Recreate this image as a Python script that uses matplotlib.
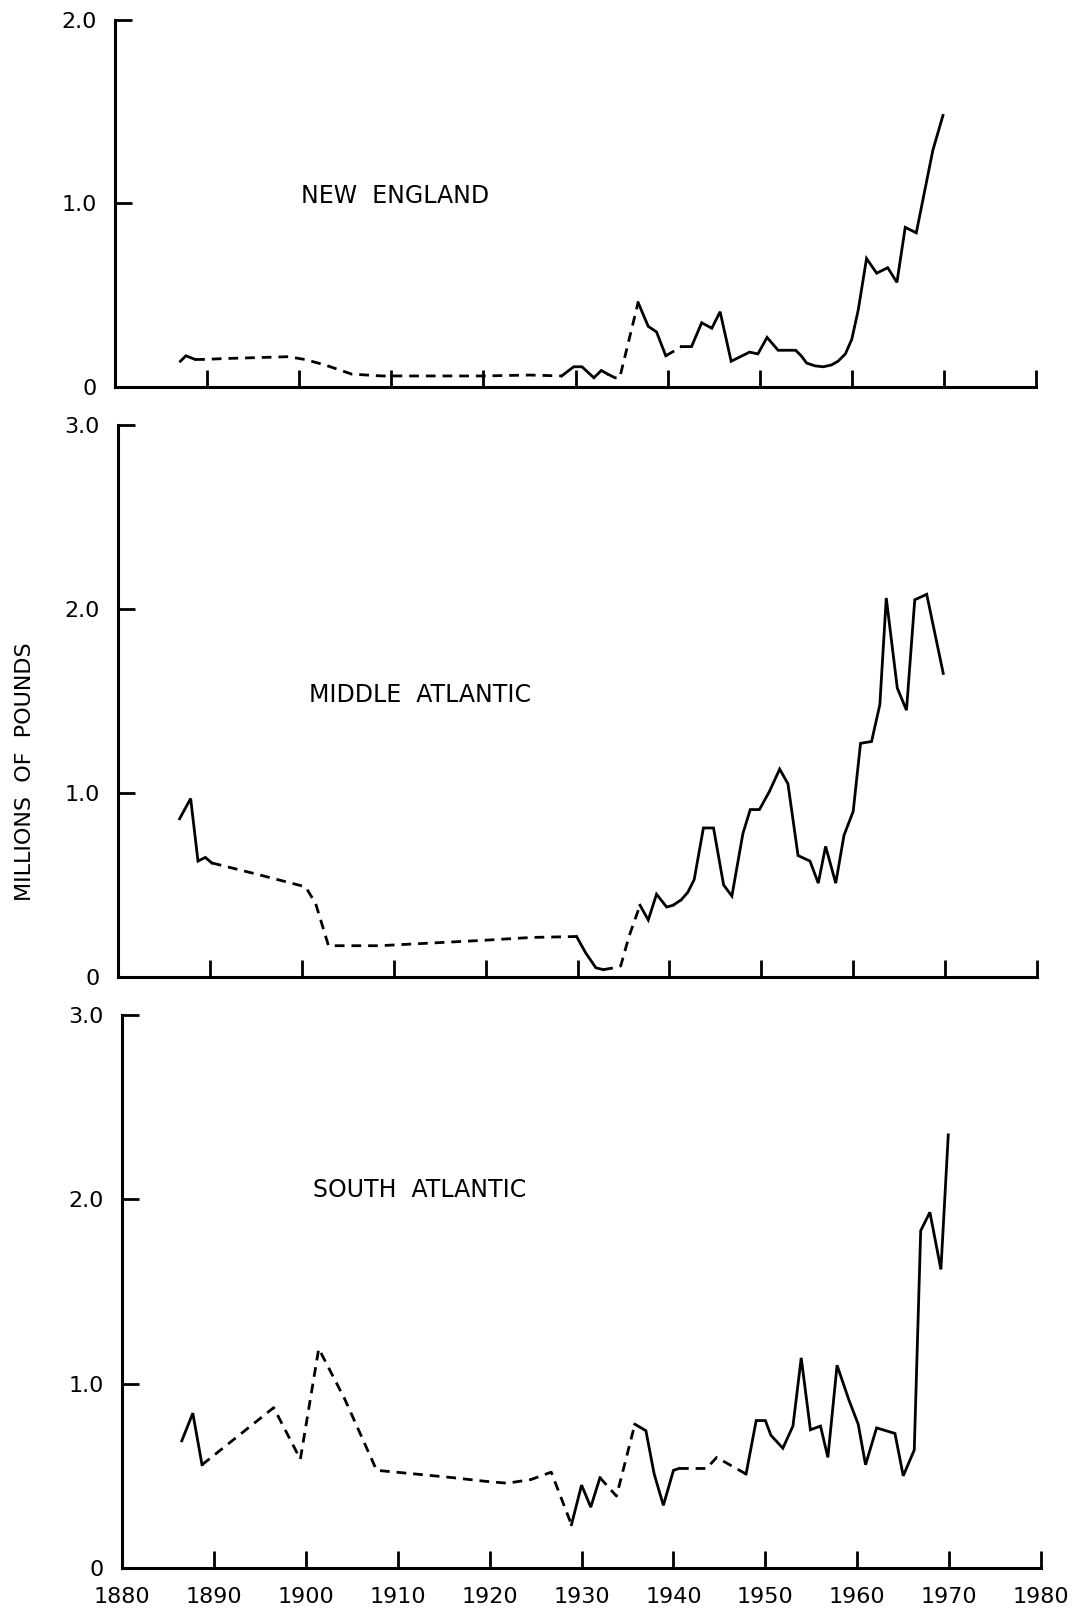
import numpy as np
import matplotlib
matplotlib.use('Agg')
import matplotlib.pyplot as plt

plt.rcParams['font.family'] = ['DejaVu Sans']

# New England (millions of pounds)
years_ne = [1887.1, 1887.7, 1888.7, 1889.5, 1892.0, 1895.5, 1898.8, 1900.6, 1902.8,
            1905.7, 1909.0, 1915.0, 1920.0, 1925.0, 1928.5, 1929.8, 1930.7, 1932.0,
            1932.8, 1933.5, 1934.3, 1934.8, 1936.8, 1937.9, 1938.8, 1939.8, 1940.5,
            1941.5, 1942.6, 1943.7, 1944.8, 1945.7, 1946.9, 1948.9, 1949.8, 1950.8,
            1952.0, 1953.9, 1954.5, 1955.1, 1956.0, 1956.9, 1957.8, 1958.5, 1959.3,
            1960.0, 1960.7, 1961.6, 1962.7, 1963.9, 1964.9, 1965.8, 1967.0, 1968.8,
            1969.9]
vals_ne = [0.14, 0.17, 0.15, 0.15, 0.155, 0.16, 0.165, 0.15, 0.12,
           0.07, 0.06, 0.06, 0.06, 0.065, 0.06, 0.11, 0.11, 0.05,
           0.09, 0.07, 0.05, 0.05, 0.46, 0.33, 0.30, 0.17, 0.19,
           0.22, 0.22, 0.35, 0.32, 0.41, 0.14, 0.19, 0.18, 0.27,
           0.20, 0.20, 0.17, 0.13, 0.115, 0.11, 0.12, 0.14, 0.18,
           0.26, 0.42, 0.70, 0.62, 0.65, 0.57, 0.87, 0.84, 1.29,
           1.48]
dashed_ne = [(1888.7, 1928.5), (1933.5, 1936.8), (1939.8, 1941.5)]

# Middle Atlantic
years_ma = [1886.7, 1887.9, 1888.7, 1889.5, 1890.2, 1895.0, 1900.4, 1901.5, 1902.9,
            1908.5, 1912.3, 1920.0, 1925.0, 1929.9, 1930.9, 1932.0, 1932.8, 1934.0,
            1934.7, 1935.6, 1936.8, 1937.7, 1938.6, 1939.7, 1940.4, 1941.3, 1942.0,
            1942.7, 1943.7, 1944.8, 1945.9, 1946.8, 1948.0, 1948.8, 1949.8, 1950.9,
            1952.0, 1952.9, 1954.0, 1955.3, 1956.2, 1957.0, 1958.1, 1959.0, 1960.0,
            1960.8, 1962.0, 1962.9, 1963.6, 1964.8, 1965.8, 1966.7, 1968.0, 1969.8]
vals_ma = [0.86, 0.97, 0.63, 0.65, 0.62, 0.56, 0.49, 0.40, 0.17,
           0.17, 0.18, 0.20, 0.215, 0.22, 0.13, 0.05, 0.04, 0.05,
           0.06, 0.22, 0.39, 0.31, 0.45, 0.38, 0.39, 0.42, 0.46,
           0.53, 0.81, 0.81, 0.50, 0.44, 0.78, 0.91, 0.91, 1.01,
           1.13, 1.05, 0.66, 0.63, 0.51, 0.71, 0.51, 0.77, 0.90,
           1.27, 1.28, 1.48, 2.06, 1.57, 1.45, 2.05, 2.08, 1.65]
dashed_ma = [(1890.2, 1929.9), (1932.8, 1936.8), (1940.4, 1941.3)]

# South Atlantic
years_sa = [1886.5, 1887.7, 1888.7, 1896.5, 1899.4, 1901.4, 1904.2, 1907.7, 1911.9,
            1916.0, 1919.6, 1921.9, 1924.5, 1926.7, 1928.9, 1930.0, 1931.0, 1932.0,
            1933.8, 1935.8, 1937.0, 1937.9, 1938.9, 1940.0, 1940.6, 1943.6, 1944.7,
            1947.9, 1949.0, 1950.0, 1950.6, 1951.9, 1953.0, 1953.9, 1954.9, 1956.0,
            1956.8, 1957.8, 1959.1, 1960.1, 1960.9, 1962.1, 1964.1, 1965.0, 1966.2,
            1966.9, 1967.9, 1969.1, 1969.9]
vals_sa = [0.69, 0.84, 0.56, 0.87, 0.59, 1.19, 0.92, 0.53, 0.51,
           0.49, 0.47, 0.46, 0.48, 0.52, 0.235, 0.45, 0.33, 0.49,
           0.39, 0.78, 0.745, 0.51, 0.34, 0.53, 0.54, 0.54, 0.60,
           0.51, 0.80, 0.80, 0.72, 0.65, 0.77, 1.14, 0.75, 0.77,
           0.60, 1.10, 0.91, 0.78, 0.56, 0.76, 0.73, 0.50, 0.64,
           1.83, 1.93, 1.62, 2.35]
dashed_sa = [(1888.7, 1928.9), (1932.0, 1935.8), (1940.6, 1947.9)]

x_ticks = [1880, 1890, 1900, 1910, 1920, 1930, 1940, 1950, 1960, 1970, 1980]
x_labels = [str(t) for t in x_ticks]

panels = [
    # name, years, values, dashed spans, ymax, label position, axes rect
    ('NEW  ENGLAND', years_ne, vals_ne, dashed_ne, 2, (1910.4, 1.04), [0.1062, 0.7601, 0.8504, 0.2275]),
    ('MIDDLE  ATLANTIC', years_ma, vals_ma, dashed_ma, 3, (1912.9, 1.53), [0.1090, 0.3943, 0.8485, 0.3422]),
    ('SOUTH  ATLANTIC', years_sa, vals_sa, dashed_sa, 3, (1912.4, 2.05), [0.1127, 0.0279, 0.8486, 0.3428]),
]


def draw_series(ax, yrs, vals, spans):
    yrs = np.asarray(yrs)
    vals = np.asarray(vals)
    style = []
    for i in range(len(yrs) - 1):
        d = any(a - 1e-6 <= yrs[i] and yrs[i + 1] <= b + 1e-6 for a, b in spans)
        style.append(d)
    start = 0
    for i in range(1, len(style) + 1):
        if i == len(style) or style[i] != style[start]:
            seg = slice(start, i + 1)
            if style[start]:
                ax.plot(yrs[seg], vals[seg], color='k', lw=2.0,
                        linestyle=(0, (3.5, 2.5)), solid_capstyle='butt')
            else:
                ax.plot(yrs[seg], vals[seg], color='k', lw=2.0,
                        solid_joinstyle='miter')
            start = i


fig = plt.figure(figsize=(10.83, 16.13), dpi=100)

for k, (name, yrs, vals, spans, ymax, lpos, rect) in enumerate(panels):
    ax = fig.add_axes(rect)
    draw_series(ax, yrs, vals, spans)
    ax.set_xlim(1880, 1980)
    ax.set_ylim(0, ymax)
    ax.spines['top'].set_visible(False)
    ax.spines['right'].set_visible(False)
    ax.spines['left'].set_linewidth(2.2)
    ax.spines['bottom'].set_linewidth(2.2)
    yt = list(range(0, ymax + 1))
    ax.set_yticks(yt)
    ax.set_yticklabels(['0'] + ['%.1f' % v for v in yt[1:]])
    ax.set_xticks(x_ticks)
    if k == 2:
        ax.set_xticklabels(x_labels)
    else:
        ax.set_xticklabels([])
    ax.tick_params(axis='both', direction='in', length=12, width=2.0,
                   labelsize=16, colors='k')
    ax.tick_params(axis='y', pad=13)
    ax.tick_params(axis='x', pad=14)
    ax.text(lpos[0], lpos[1], name, fontsize=17, ha='center', va='center')

fig.text(0.023, 0.5214, 'MILLIONS  OF  POUNDS', rotation=90, fontsize=16,
         ha='center', va='center')

fig.savefig('out.png', dpi=100)
